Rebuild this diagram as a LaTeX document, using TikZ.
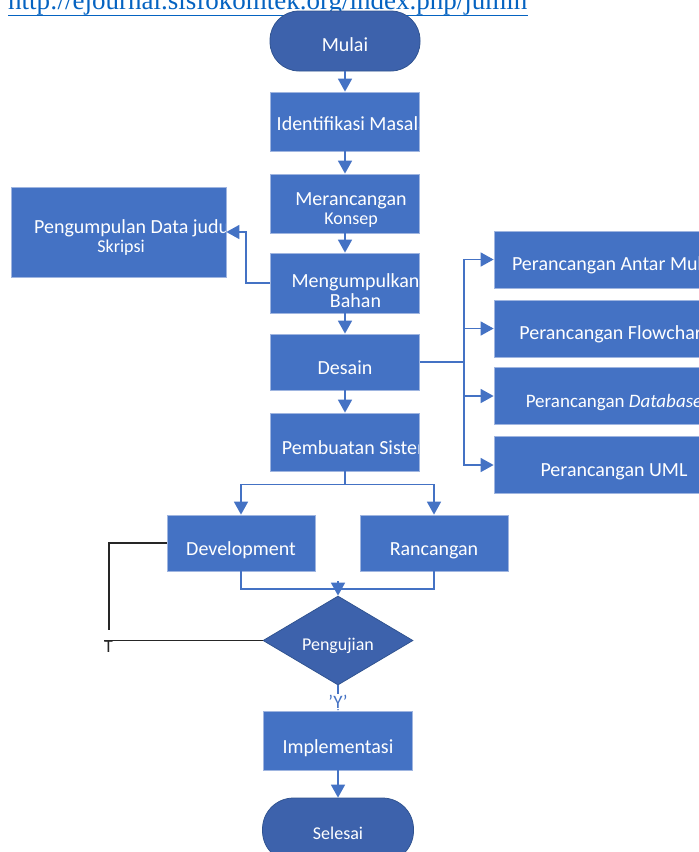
\documentclass[tikz,border=0pt]{standalone}
\usepackage{fontspec}
\setmainfont{Carlito}
\newfontfamily\serifurl{Liberation Serif}
\usetikzlibrary{arrows.meta,shapes.geometric,positioning}

\definecolor{biru}{HTML}{4472C4}
\definecolor{birutua}{HTML}{3D62AC}
\definecolor{tepibiru}{HTML}{9FB5E0}
\definecolor{tepitua}{HTML}{2F528F}
\definecolor{tautan}{HTML}{0563C1}

\tikzset{
  kotak/.style={rectangle, draw=tepibiru, line width=0.75pt, fill=biru, text=white,
    inner sep=0pt, minimum width=149pt, minimum height=59pt,
    font=\fontsize{20}{19.5}\selectfont, text height=22pt, text depth=0pt},
  terminal/.style={kotak, draw=tepitua, fill=birutua, rounded corners=29pt},
  keputusan/.style={diamond, aspect=1.7, draw=tepitua, line width=0.75pt, fill=birutua,
    text=white, inner sep=0pt, minimum width=150pt, minimum height=89pt,
    font=\fontsize{18}{20}\selectfont, text height=20pt, text depth=0pt},
  potong/.style n args={3}{path picture={
    \node[text=white, align=center, inner sep=0pt, font=\fontsize{20}{19.5}\selectfont]
      at ([shift={(#1,#2)}]path picture bounding box.center) {#3};}},
  panah/.style={draw=biru, line width=1.6pt, -{Triangle[length=13pt,width=14pt]}},
  garis/.style={draw=biru, line width=1.6pt},
  garishitam/.style={draw=black!85, line width=1.6pt},
}

\begin{document}
\begin{tikzpicture}[x=1pt,y=-1pt]
  \useasboundingbox (0,0) rectangle (699,852);
  \clip (0,0) rectangle (699,852);

  % alamat jurnal, terpotong di tepi atas
  \node[anchor=base west, inner sep=0pt, text=tautan, font=\serifurl\fontsize{27}{30}\selectfont]
    (alamat) at (8,9.5) {http://ejournal.sisfokomtek.org/index.php/jumin};
  \draw[tautan, line width=1.5pt] (alamat.south west) -- (alamat.south east);

  % alur utama
  \node[terminal, minimum width=150pt, minimum height=60pt, text height=20pt] (Mulai) at (345,41) {Mulai};
  \node[kotak, potong={12.5}{-2}{Identifikasi Masalah}] (Identifikasi) at (345,121.5) {};
  \node[kotak, potong={6}{10}{Merancangan\\{\fontsize{18}{19.5}\selectfont Konsep}}] (Merancangan) at (345,203.5) {};
  \node[kotak, minimum height=60pt, potong={10.5}{13}{Mengumpulkan\\Bahan}] (Mengumpulkan) at (345,283) {};
  \node[kotak, minimum height=56pt, text height=24pt] (Desain) at (345,362) {Desain};
  \node[kotak, minimum height=58pt, potong={12.5}{1}{Pembuatan Sistem}] (Pembuatan) at (345,442) {};

  % kotak samping kiri
  \node[kotak, minimum width=215pt, minimum height=90pt,
    potong={15.5}{9.5}{Pengumpulan Data judul\\{\fontsize{18}{19.5}\selectfont Skripsi}\hspace*{26pt}}] (Pengumpulan) at (118.5,232) {};

  % perancangan (kanan)
  \node[kotak, minimum width=240pt, minimum height=57pt] (AntarMuka) at (614,259.5) {Perancangan Antar Muka};
  \node[kotak, minimum width=240pt, minimum height=57pt] (Flowchart) at (614,328.5) {Perancangan Flowchart};
  \node[kotak, minimum width=240pt, minimum height=57pt, font=\fontsize{19}{20}\selectfont] (Database) at (614,396) {Perancangan \textit{Database}};
  \node[kotak, minimum width=240pt, minimum height=57pt] (UML) at (614,465) {Perancangan UML};

  % cabang bawah
  \node[kotak, minimum width=148pt, minimum height=56pt, text height=24pt] (Development) at (241,543) {Development};
  \node[kotak, minimum width=148pt, minimum height=56pt, text height=24pt] (Rancangan) at (434,543) {Rancangan};
  \node[keputusan] (Pengujian) at (338,640.5) {Pengujian};
  \node[kotak, text height=25pt] (Implementasi) at (338,740.5) {Implementasi};
  \node[terminal, minimum width=151pt, minimum height=64pt, rounded corners=31pt,
    font=\fontsize{18}{20}\selectfont, text height=18pt] (Selesai) at (338,830) {Selesai};

  \coordinate (cabang) at (464,362);
  \coordinate (gabung) at (338,589);
  \coordinate (ujungT) at (109,630);
  \coordinate (kiriT) at (104,640.5);

  % panah alur utama
  \draw[panah] (Mulai) -- (Identifikasi);
  \draw[panah] (Identifikasi) -- (Merancangan);
  \draw[panah] (Merancangan) -- (Mengumpulkan);
  \draw[panah] (Mengumpulkan) -- (Desain);
  \draw[panah] (Desain) -- (Pembuatan);
  \draw[panah] (Mengumpulkan.west) -- ++(-24,0) |- (Pengumpulan.east);

  \draw[garis] (Desain.east) -- (cabang);
  \foreach \n in {AntarMuka,Flowchart,Database,UML}
    \draw[panah] (cabang) |- (\n.west);

  \draw[panah] (Pembuatan.south) -- ++(0,13) -| (Development.north);
  \draw[panah] (Pembuatan.south) -- ++(0,13) -| (Rancangan.north);
  \draw[garis] (Development.south) |- (gabung);
  \draw[garis] (Rancangan.south) |- (gabung);
  \draw[panah] ([yshift=8pt]gabung) -- (Pengujian.north);

  % jawaban tidak / ya
  \draw[garishitam] (Development.west) -| (ujungT);
  \draw[garishitam] (Pengujian.west) -- (kiriT);
  \node[anchor=base, inner sep=0pt, text=black!85, font=\fontsize{18}{20}\selectfont] (T) at (108.5,652.5) {T};
  \draw[panah] (Pengujian.south) -- (Implementasi.north);
  \node[anchor=base, inner sep=1pt, fill=white, text=biru, font=\fontsize{19}{20}\selectfont] (Ya) at (338,708) {'Y'};
  \draw[panah] (Implementasi) -- (Selesai);
\end{tikzpicture}
\end{document}
